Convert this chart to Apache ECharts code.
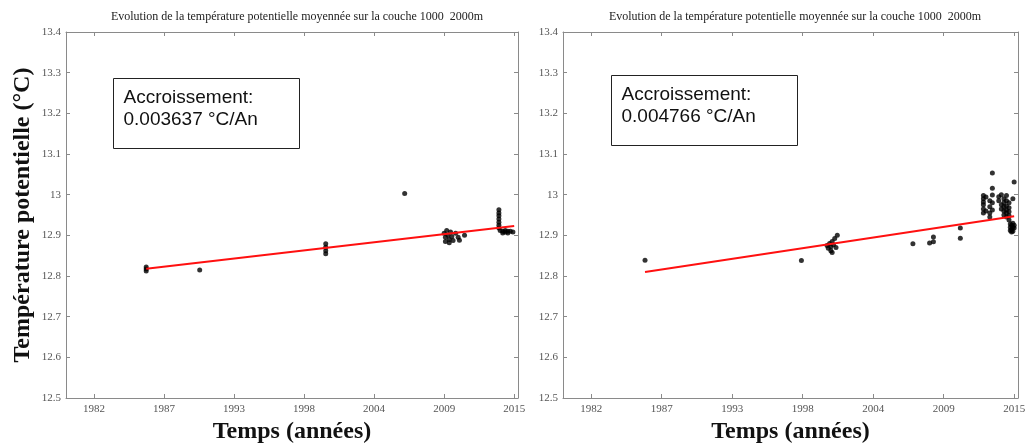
<!DOCTYPE html>
<html>
<head>
<meta charset="utf-8">
<script src="https://cdn.jsdelivr.net/npm/echarts@6/dist/echarts.min.js"></script>
<style>
  html, body { margin: 0; padding: 0; background: #fff; }
  #chart { width: 1028px; height: 444px; }
</style>
</head>
<body>
<div id="chart"></div>
<script>
// x ticks (decimal years) and their labels
const tickYears = [1981.9, 1987.4, 1992.9, 1998.4, 2003.9, 2009.4, 2014.9];
const tickLabels = ['1982', '1987', '1993', '1998', '2004', '2009', '2015'];
const yTicks = ['12.5', '12.6', '12.7', '12.8', '12.9', '13', '13.1', '13.2', '13.3', '13.4'];

// left panel measurements
const leftYears = [1986.0, 1986.0, 1986.0, 1990.2, 2000.1, 2000.1, 2000.1, 2000.1, 2006.3,
  2009.4, 2009.5, 2009.5, 2009.6, 2009.7, 2009.8, 2009.8, 2009.9, 2010.0, 2010.1, 2010.3, 2010.5, 2010.6, 2011.0,
  2013.7, 2013.7, 2013.7, 2013.7, 2013.7, 2013.7, 2013.7, 2013.8, 2014.0, 2014.0, 2014.2, 2014.2, 2014.4, 2014.4, 2014.6, 2014.8];
const leftTemps = [12.822, 12.817, 12.812, 12.815, 12.879, 12.871, 12.862, 12.855, 13.003,
  12.905, 12.895, 12.885, 12.912, 12.900, 12.890, 12.882, 12.908, 12.897, 12.887, 12.905, 12.895, 12.888, 12.900,
  12.963, 12.955, 12.948, 12.940, 12.932, 12.925, 12.918, 12.912, 12.910, 12.906, 12.912, 12.908, 12.910, 12.906, 12.910, 12.908];
const leftTrendYears = [1986.0, 2014.9];
const leftTrendTemps = [12.818, 12.923];
const leftRate = '0.003637';

// right panel measurements
const rightYears = [1986.1, 1998.3,
  2000.3, 2000.4, 2000.5, 2000.6, 2000.6, 2000.7, 2000.8, 2000.9, 2001.0, 2001.1, 2000.7,
  2007.0, 2008.3, 2008.6, 2008.6, 2010.7, 2010.7,
  2012.5, 2012.5, 2012.5, 2012.5, 2012.5, 2012.5, 2012.7, 2012.7,
  2013.0, 2013.0, 2013.0, 2013.0, 2013.2, 2013.2, 2013.2, 2013.2, 2013.2,
  2013.7, 2013.7, 2013.9, 2013.9, 2013.9,
  2014.1, 2014.1, 2014.1, 2014.1, 2014.1,
  2014.3, 2014.3, 2014.3, 2014.3, 2014.3, 2014.3,
  2014.5, 2014.5, 2014.5, 2014.5, 2014.5,
  2014.6, 2014.6, 2014.6, 2014.7, 2014.7, 2014.7,
  2014.8, 2014.8, 2014.8, 2014.8, 2014.9, 2014.9, 2014.9];
const rightTemps = [12.839, 12.838,
  12.875, 12.868, 12.880, 12.872, 12.862, 12.885, 12.877, 12.892, 12.870, 12.900, 12.858,
  12.879, 12.881, 12.884, 12.896, 12.893, 12.918,
  12.998, 12.990, 12.982, 12.975, 12.965, 12.955, 12.994, 12.960,
  12.985, 12.970, 12.955, 12.945, 13.053, 13.016, 12.999, 12.980, 12.962,
  12.995, 12.985, 13.000, 12.975, 12.965,
  12.990, 12.980, 12.970, 12.960, 12.950,
  12.998, 12.985, 12.972, 12.962, 12.955, 12.945,
  12.980, 12.968, 12.958, 12.948, 12.938,
  12.928, 12.920, 12.912, 12.925, 12.915, 12.908,
  12.930, 12.920, 12.910, 12.990, 13.031, 12.918, 12.925];
const rightTrendYears = [1986.1, 2014.9];
const rightTrendTemps = [12.810, 12.947];
const rightRate = '0.004766';

const titleText = 'Evolution de la température potentielle moyennée sur la couche 1000  2000m';
const serif = '"Liberation Serif", "DejaVu Serif", serif';
const sans = '"Liberation Sans", Arial, sans-serif';

const zip = (xs, ys) => xs.map((x, i) => [x, ys[i]]);

function tickLabelFor(v) {
    let best = 0;
    tickYears.forEach((t, i) => { if (Math.abs(t - v) < Math.abs(tickYears[best] - v)) best = i; });
    return tickLabels[best];
}

const axisColor = '#8a8a8a';

function xAxes(gi) {
    const base = {
        type: 'value', gridIndex: gi, min: 1979.7, max: 2015.2,
        splitLine: { show: false },
        axisLine: { show: true, onZero: false, lineStyle: { color: axisColor, width: 1 } },
        axisTick: { show: true, inside: true, length: 4, customValues: tickYears, lineStyle: { color: axisColor } }
    };
    return [
        Object.assign({}, base, {
            position: 'bottom',
            name: 'Temps (années)', nameLocation: 'middle', nameGap: 21,
            nameTextStyle: { fontFamily: serif, fontWeight: 'bold', fontSize: 24, color: '#111' },
            axisLabel: { customValues: tickYears, formatter: tickLabelFor, fontFamily: serif, fontSize: 11, color: '#555', margin: 6 }
        }),
        Object.assign({}, base, { position: 'top', axisLabel: { show: false } })
    ];
}

function yAxes(gi, withName) {
    const base = {
        type: 'value', gridIndex: gi, min: 12.5, max: 13.4, interval: 0.1,
        splitLine: { show: false },
        axisLine: { show: true, onZero: false, lineStyle: { color: axisColor, width: 1 } },
        axisTick: { show: true, inside: true, length: 4, lineStyle: { color: axisColor } }
    };
    const left = Object.assign({}, base, {
        position: 'left',
        axisLabel: {
            fontFamily: serif, fontSize: 11, color: '#555', margin: 5,
            formatter: v => yTicks[Math.round((v - 12.5) * 10)]
        }
    });
    if (withName) {
        Object.assign(left, {
            name: 'Température potentielle (°C)', nameLocation: 'middle', nameGap: 31,
            nameTextStyle: { fontFamily: serif, fontWeight: 'bold', fontSize: 24, color: '#111' }
        });
    }
    return [left, Object.assign({}, base, { position: 'right', axisLabel: { show: false } })];
}

function box(x, y, rate) {
    return {
        type: 'group', left: x, top: y,
        children: [
            { type: 'rect', shape: { x: 0, y: 0, width: 186, height: 70 },
              style: { fill: '#fff', stroke: '#222', lineWidth: 1 } },
            { type: 'text', x: 10, y: 8,
              style: { text: 'Accroissement:\n' + rate + ' °C/An', font: '19px ' + sans, fill: '#111', lineHeight: 22 } }
        ]
    };
}

const chart = echarts.init(document.getElementById('chart'));
chart.setOption({
    animation: false,
    backgroundColor: '#fff',
    title: [
        { text: titleText, left: 292, top: 6, textAlign: 'center',
          textStyle: { fontFamily: serif, fontSize: 12, fontWeight: 'normal', color: '#222' } },
        { text: titleText, left: 790, top: 6, textAlign: 'center',
          textStyle: { fontFamily: serif, fontSize: 12, fontWeight: 'normal', color: '#222' } }
    ],
    grid: [
        { left: 66, top: 32, width: 452, height: 366, outerBoundsMode: 'none', containLabel: false },
        { left: 563, top: 32, width: 455, height: 366, outerBoundsMode: 'none', containLabel: false }
    ],
    xAxis: xAxes(0).concat(xAxes(1)),
    yAxis: yAxes(0, true).concat(yAxes(1, false)),
    series: [
        { type: 'scatter', xAxisIndex: 0, yAxisIndex: 0, data: zip(leftYears, leftTemps),
          symbolSize: 5, itemStyle: { color: '#000' } },
        { type: 'line', xAxisIndex: 0, yAxisIndex: 0, data: zip(leftTrendYears, leftTrendTemps),
          showSymbol: false, lineStyle: { color: '#ff1010', width: 2 } },
        { type: 'scatter', xAxisIndex: 2, yAxisIndex: 2, data: zip(rightYears, rightTemps),
          symbolSize: 5, itemStyle: { color: '#000' } },
        { type: 'line', xAxisIndex: 2, yAxisIndex: 2, data: zip(rightTrendYears, rightTrendTemps),
          showSymbol: false, lineStyle: { color: '#ff1010', width: 2 } }
    ],
    graphic: [box(113, 78, leftRate), box(611, 75, rightRate)]
});
</script>
</body>
</html>
